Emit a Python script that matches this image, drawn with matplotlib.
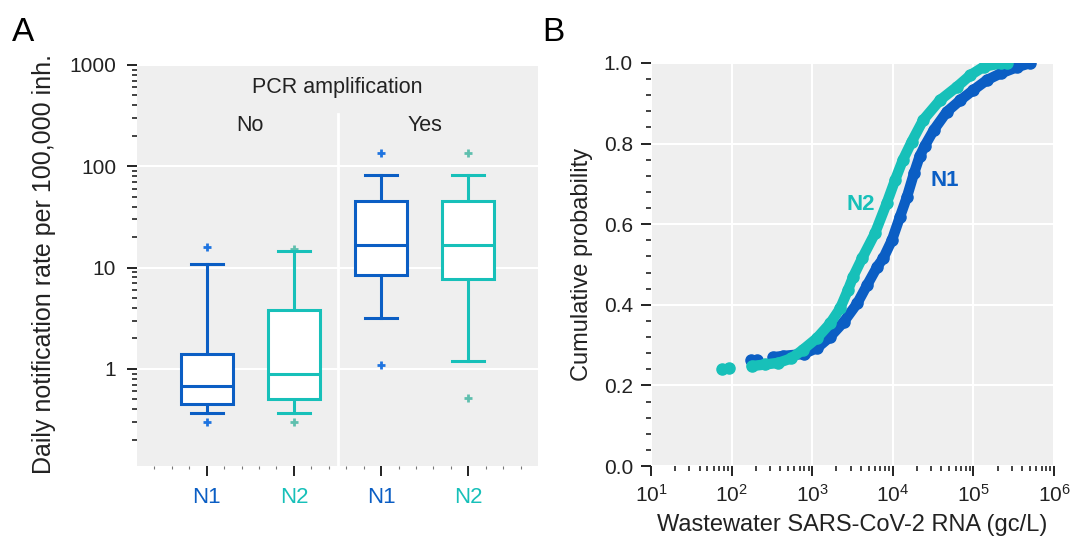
import numpy as np
import matplotlib
matplotlib.use('Agg')
import matplotlib.pyplot as plt
from matplotlib.ticker import FixedLocator, LogLocator, AutoMinorLocator, NullFormatter, FormatStrFormatter

plt.rcParams['font.family'] = ['Liberation Sans', 'DejaVu Sans']
plt.rcParams['mathtext.fontset'] = 'custom'
plt.rcParams['mathtext.rm'] = 'Liberation Sans'
plt.rcParams['mathtext.it'] = 'Liberation Sans'
plt.rcParams['mathtext.bf'] = 'Liberation Sans:bold'

# panel A - box statistics (daily notification rate per 100,000 inh.)
groups = ['N1', 'N2', 'N1', 'N2']
amplification = ['No', 'Yes']
whislo = [0.37, 0.37, 3.2, 1.19]
q1 = [0.45, 0.50, 8.5, 7.7]
med = [0.68, 0.89, 16.9, 16.9]
q3 = [1.40, 3.8, 45.6, 45.6]
whishi = [10.8, 14.5, 81.8, 81.8]
fliers = [[0.30, 15.8], [0.30, 15.4], [1.10, 134], [0.52, 134]]

# panel B - cumulative probability vs wastewater RNA (gc/L)
n1_conc = [175, 205, 330, 435, 780, 1150, 1660, 2450, 3630, 4800, 6430, 7600,
           9780, 12300, 15000, 18300, 21500, 25000, 32300, 46800, 69000,
           100000, 148000, 217000, 350000, 510000]
n1_prob = [0.262, 0.262, 0.270, 0.273, 0.278, 0.293, 0.320, 0.357, 0.404, 0.449,
           0.495, 0.515, 0.561, 0.619, 0.668, 0.726, 0.768, 0.795, 0.834, 0.879,
           0.908, 0.933, 0.958, 0.974, 0.990, 1.0]
n2_conc = [75, 92, 178, 263, 380, 550, 760, 1140, 1670, 2220, 2780, 3230, 4150,
           6000, 8400, 10700, 13300, 17200, 23900, 38600, 62500, 91800, 135000,
           220000, 263000]
n2_prob = [0.240, 0.242, 0.248, 0.252, 0.256, 0.267, 0.288, 0.317, 0.354, 0.391,
           0.437, 0.470, 0.515, 0.577, 0.652, 0.710, 0.759, 0.805, 0.859, 0.908,
           0.941, 0.970, 0.991, 0.999, 1.0]

blue = '#0b5ec4'
teal = '#17c0b9'
colors = {'N1': blue, 'N2': teal}
flier_colors = {'N1': '#1f74e0', 'N2': '#5fbfae'}
bg = '#efefef'
tick_col = '#222222'

fig = plt.figure(figsize=(10.74, 5.44), dpi=100)
ax = fig.add_axes([137 / 1074, 1 - 466 / 544, 401 / 1074, 401 / 544])
ax2 = fig.add_axes([651 / 1074, 1 - 466 / 544, 403 / 1074, 403 / 544])

# ---- panel A ----
ax.set_facecolor(bg)
ax.set_yscale('log')
stats = []
for i in range(len(groups)):
    stats.append(dict(whislo=whislo[i], q1=q1[i], med=med[i], q3=q3[i],
                      whishi=whishi[i], fliers=fliers[i]))
pos = [1, 2, 3, 4]
res = ax.bxp(stats, positions=pos, widths=0.6, capwidths=0.37,
             patch_artist=True, showfliers=True)
for i, g in enumerate(groups):
    c = colors[g]
    res['boxes'][i].set(facecolor='white', edgecolor=c, linewidth=2.2, zorder=3)
    res['medians'][i].set(color=c, linewidth=2.2, zorder=4)
    for k in (2 * i, 2 * i + 1):
        res['whiskers'][k].set(color=c, linewidth=2.2, zorder=2.5)
        res['caps'][k].set(color=c, linewidth=2.2, zorder=2.5)
    res['fliers'][i].set(marker='+', markeredgecolor=flier_colors[g],
                         markersize=6, markeredgewidth=2)

ax.set_xlim(0.2, 4.8)
ax.set_ylim(0.11, 1000)
ax.set_axisbelow(True)
ax.yaxis.grid(True, which='major', color='white', linewidth=1.5)
ax.axvline(2.5, ymin=0, ymax=0.878, color='white', linewidth=2, zorder=1)

ax.yaxis.set_major_locator(FixedLocator([1, 10, 100, 1000]))
ax.set_yticklabels(['1', '10', '100', '1000'])
ax.yaxis.set_minor_locator(LogLocator(base=10, subs=np.arange(2, 10), numticks=20))
ax.yaxis.set_minor_formatter(NullFormatter())
ax.set_xticks(pos)
ax.set_xticklabels(groups)
ax.xaxis.set_minor_locator(FixedLocator(np.arange(0.4, 4.7, 0.2)))

ax.tick_params(axis='both', which='major', direction='out', length=7, width=1.4,
               color=tick_col, labelsize=15, labelcolor=tick_col, pad=8)
ax.tick_params(axis='x', which='major', labelsize=16, pad=8)
for lbl, g in zip(ax.get_xticklabels(), groups):
    lbl.set_color(colors[g])
ax.tick_params(axis='both', which='minor', direction='out', length=3.5, width=1.2,
               color=tick_col)
ax.tick_params(axis='x', which='minor', length=2.5, width=0.8, color='#777777')
for s in ax.spines.values():
    s.set_visible(False)

ax.text(0.5, 0.943, 'PCR amplification', transform=ax.transAxes, ha='center',
        va='center', fontsize=15.5, color=tick_col)
ax.text(1.5, 0.85, amplification[0], transform=ax.get_xaxis_transform(),
        ha='center', va='center', fontsize=15.5, color=tick_col)
ax.text(3.5, 0.85, amplification[1], transform=ax.get_xaxis_transform(),
        ha='center', va='center', fontsize=15.5, color=tick_col)
ax.set_ylabel('Daily notification rate per 100,000 inh.', fontsize=18, color=tick_col)
ax.yaxis.set_label_coords(-0.203, 0.504)

# ---- panel B ----
ax2.set_facecolor(bg)
ax2.set_xscale('log')
ax2.plot(n1_conc[2:], n1_prob[2:], color=blue, linewidth=7.5, solid_capstyle='round',
         solid_joinstyle='round', zorder=3)
ax2.plot(n1_conc, n1_prob, 'o', color=blue, markersize=8, zorder=3)
ax2.plot(n2_conc[2:], n2_prob[2:], color=teal, linewidth=7.5, solid_capstyle='round',
         solid_joinstyle='round', zorder=4)
ax2.plot(n2_conc, n2_prob, 'o', color=teal, markersize=8, zorder=4)

ax2.set_xlim(10, 1e6)
ax2.set_ylim(0, 1)
ax2.set_axisbelow(True)
ax2.grid(True, which='major', color='white', linewidth=1.5)
ax2.xaxis.set_major_locator(LogLocator(base=10, numticks=10))
ax2.xaxis.set_minor_locator(LogLocator(base=10, subs=np.arange(2, 10), numticks=20))
ax2.xaxis.set_minor_formatter(NullFormatter())
ax2.set_yticks(np.arange(0, 1.01, 0.2))
ax2.yaxis.set_major_formatter(FormatStrFormatter('%.1f'))
ax2.yaxis.set_minor_locator(AutoMinorLocator(5))
ax2.tick_params(axis='both', which='major', direction='out', length=7, width=1.4,
                color=tick_col, labelsize=15, labelcolor=tick_col, pad=6)
ax2.tick_params(axis='both', which='minor', direction='out', length=3.5, width=1.2,
                color=tick_col)
for s in ax2.spines.values():
    s.set_visible(False)

ax2.text(3980, 0.65, 'N2', color=teal, fontweight='bold', fontsize=16,
         ha='center', va='center', zorder=5)
ax2.text(43600, 0.708, 'N1', color=blue, fontweight='bold', fontsize=16,
         ha='center', va='center', zorder=5)
ax2.set_xlabel('Wastewater SARS-CoV-2 RNA (gc/L)', fontsize=17, color=tick_col,
               labelpad=6)
ax2.set_ylabel('Cumulative probability', fontsize=17, color=tick_col)
ax2.yaxis.set_label_coords(-0.145, 0.50)

fig.text(12 / 1074, 1 - 41 / 544, 'A', fontsize=24, color='black')
fig.text(542 / 1074, 1 - 41 / 544, 'B', fontsize=24, color='black')

fig.savefig('out.png', dpi=100)
